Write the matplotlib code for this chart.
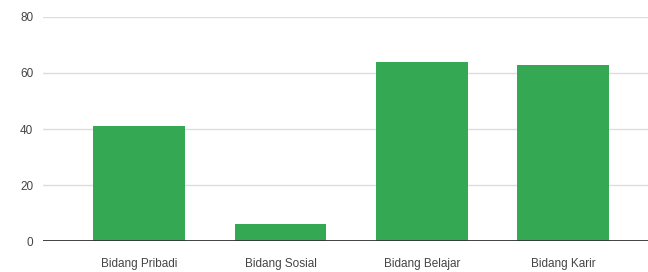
import matplotlib.pyplot as plt

categories = ["Bidang Pribadi", "Bidang Sosial", "Bidang Belajar", "Bidang Karir"]
values = [41, 6, 64, 63]
yticks = [0, 20, 40, 60, 80]

plt.rcParams['font.family'] = ['Liberation Sans', 'DejaVu Sans']

fig = plt.figure(figsize=(6.48, 2.72), dpi=100)
ax = fig.add_axes([43 / 648, 31 / 272, 1 - 43 / 648, 224 / 272])

x = list(range(len(categories)))
ax.bar(x, values, width=0.65, color="#34a853", zorder=3)

ax.set_ylim(0, 80)
ax.set_xlim(-0.68, 3.6)
ax.set_yticks(yticks)
ax.set_xticks(x)
ax.set_xticklabels(categories)
ax.grid(axis="y", color="#dddddd", linewidth=1, zorder=0)
ax.axhline(0, color="#333333", linewidth=1.3, zorder=4)

for s in ax.spines.values():
    s.set_visible(False)
ax.tick_params(axis="both", length=0, labelsize=8.5, colors="#444444")
ax.tick_params(axis="y", pad=7)
ax.tick_params(axis="x", pad=12)

fig.savefig("out.png", dpi=100)
